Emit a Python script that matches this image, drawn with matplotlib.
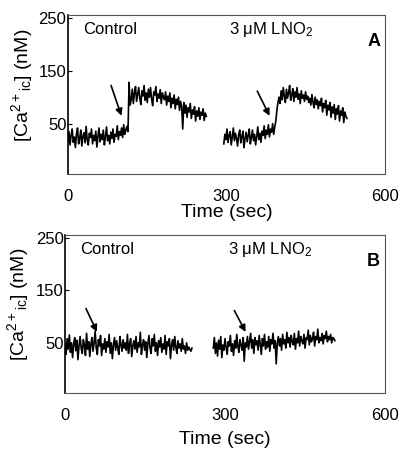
import numpy as np
import matplotlib.pyplot as plt

plt.rcParams['font.family'] = ['Liberation Sans', 'DejaVu Sans']
plt.rcParams['mathtext.fontset'] = 'custom'
plt.rcParams['mathtext.rm'] = 'Liberation Sans'
plt.rcParams['mathtext.it'] = 'Liberation Sans:italic'

# Panel A, control trace (sec 0-262)
a_ctrl_t = (0, 262)
a_ctrl = [18, 35, 10, 28, 40, 15, 25, 5, 30, 42, 12, 22, 38, 8, 27, 33, 14, 45, 20, 10,
          32, 24, 40, 12, 28, 18, 36, 6, 26, 42, 16, 30, 20, 38, 10, 25, 44, 18, 28, 12,
          34, 22, 40, 15, 30, 26, 46, 20, 35, 28, 42, 24, 48, 30, 38, 45, 35,
          128, 85,
          95, 115, 88, 108, 120, 92, 105, 118, 98, 86, 112, 102, 122, 94, 108, 90, 115, 100,
          118, 96, 84, 110, 104, 120, 92, 106, 98, 114, 88, 108, 100,
          95, 110, 85, 102, 92, 108, 80, 98, 88, 104, 78, 96, 86, 100, 75, 92, 82, 40, 90, 70,
          85, 62, 80, 72, 88, 60, 76, 68, 82, 55, 74, 64, 80, 58, 72, 66, 78, 56, 70, 64]
# Panel A, 3 uM LNO2 trace
a_lno_t = (295, 528)
a_lno = [12, 30, 20, 40, 15, 28, 35, 10, 25, 42, 18, 32, 22, 8, 30, 38, 14, 26, 36, 5,
         22, 34, 16, 28, 40, 12, 24, 38, 18, 30, 10, 26, 44, 20, 32, 15, 36, 28, 46, 22,
         38, 30, 48, 25, 40, 34, 50, 30, 44,
         55, 75, 90,
         100, 88, 112, 95, 118, 102, 90, 115, 98, 108, 122, 94, 104, 116, 92, 110, 100, 118,
         96, 106, 88, 112, 98, 104, 92, 110, 96, 102, 90,
         98, 85, 105, 90, 80, 100, 86, 95, 78, 92, 84, 98, 72, 88, 80, 94, 66, 85, 76, 90,
         62, 82, 70, 86, 58, 78, 68, 84, 55, 74, 66, 80, 52, 72, 64, 60]
# Panel B, control trace
b_ctrl_t = (0, 238)
b_ctrl = [45, 28, 58, 38, 65, 32, 50, 22, 48, 60, 35, 55, 18, 44, 62, 40, 30, 56, 46, 26,
          68, 38, 52, 24, 47, 60, 34, 50, 72, 40, 28, 56, 44, 64, 26, 48, 38, 58, 32, 52,
          42, 66, 30, 50, 20, 46, 60, 36, 54, 40, 28, 62, 46, 34, 56, 40, 50, 36, 66, 30,
          48, 58, 24, 44, 54, 38, 62, 32, 50, 42, 70, 28, 46, 56, 36, 52, 22, 48, 64, 40,
          30, 58, 44, 66, 34, 50, 26, 54, 42, 60, 32, 48, 38, 64, 28, 52, 44, 58, 20, 46,
          56, 36, 62, 42, 30, 54, 40, 48, 34, 58, 38, 44, 30, 50, 36, 42, 38, 34, 40]
# Panel B, 3 uM LNO2 trace
b_lno_t = (278, 506)
b_lno = [40, 60, 30, 50, 25, 55, 38, 62, 22, 46, 36, 58, 42, 28, 52, 44, 64, 34, 48, 26,
         54, 40, 66, 44, 32, 56, 46, 36, 60, 15, 50, 42, 62, 38, 52, 68, 40, 56, 30, 60,
         46, 54, 36, 64, 48, 28, 58, 44, 66, 38, 52, 42, 62, 34, 56, 48, 68, 40, 54, 10,
         50, 62, 44, 58, 36, 66, 48, 56, 40, 70, 50, 60, 42, 64, 52, 46, 68, 38, 58, 50,
         72, 44, 62, 54, 48, 66, 40, 60, 56, 74, 46, 64, 52, 58, 70, 44, 62, 56, 76, 50,
         60, 54, 68, 48, 64, 58, 72, 52, 62, 56, 66, 50, 60, 58, 54]

# arrows: (tail, head) in data units
a_arrows = [((80, 127), (103, 60)), ((356, 116), (384, 60))]
b_arrows = [((37, 120), (62, 66)), ((315, 116), (341, 66))]

xticks = [0, 300, 600]
yticks = [50, 150, 250]


def panel(ax, traces, arrows, letter, xpad):
    for (t0, t1), vals in traces:
        t = np.linspace(t0, t1, len(vals))
        ax.plot(t, vals, color='black', lw=1.2)
    for tail, head in arrows:
        ax.annotate('', xy=head, xytext=tail,
                    arrowprops=dict(arrowstyle='-|>', color='black', lw=1.2,
                                    mutation_scale=10))
    ax.set_xlim(0, 600)
    ax.set_ylim(-45, 255)
    ax.set_xticks(xticks)
    ax.set_yticks(yticks)
    ax.tick_params(axis='x', length=0, pad=11, labelsize=12)
    ax.tick_params(axis='y', length=3, direction='in', pad=1, labelsize=12)
    for s in ['top', 'right', 'bottom']:
        ax.spines[s].set_color('#555555')
        ax.spines[s].set_linewidth(0.8)
    ax.spines['left'].set_linewidth(1.2)
    ax.set_xlabel('Time (sec)', fontsize=14, labelpad=xpad)
    ax.set_ylabel(r'[Ca$^{2+}$$_{\mathrm{ic}}$] (nM)', fontsize=14)
    ax.yaxis.set_label_coords(-0.105, 0.56)
    ax.text(28, 228, 'Control', fontsize=12, va='center')
    ax.text(305, 228, '3 \u03bcM LNO$_2$', fontsize=12, va='center')
    ax.text(0.985, 0.83, letter, transform=ax.transAxes, fontsize=13,
            fontweight='bold', ha='right', va='center')


fig = plt.figure(figsize=(4.04, 4.5), dpi=100)
ax1 = fig.add_axes([0.168, 0.613, 0.785, 0.354])
ax2 = fig.add_axes([0.161, 0.127, 0.792, 0.351])

panel(ax1, [(a_ctrl_t, a_ctrl), (a_lno_t, a_lno)], a_arrows, 'A', 0)
panel(ax2, [(b_ctrl_t, b_ctrl), (b_lno_t, b_lno)], b_arrows, 'B', 6)

fig.savefig('out.png', dpi=100)
